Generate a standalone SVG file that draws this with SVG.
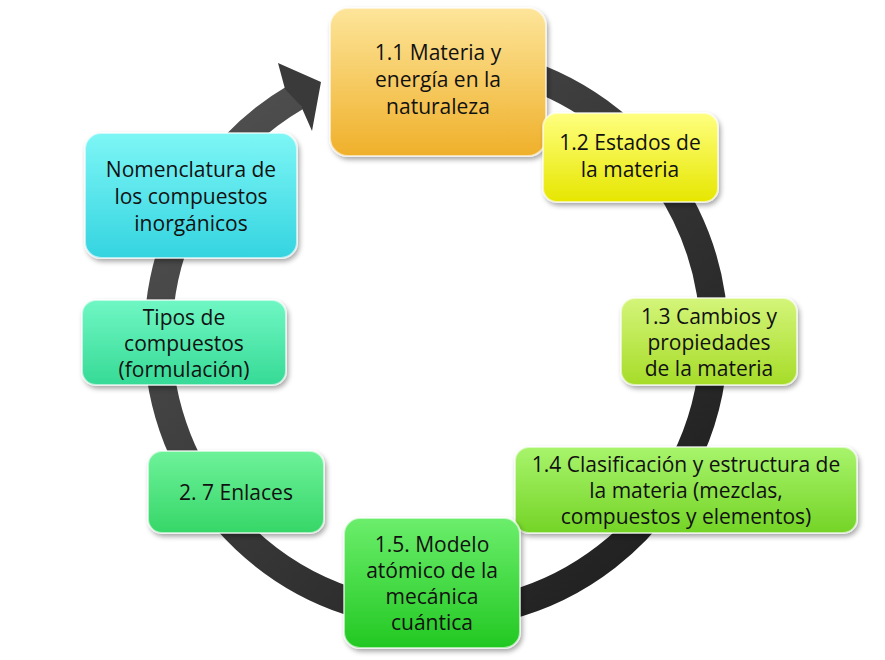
<svg xmlns="http://www.w3.org/2000/svg" width="885" height="660" viewBox="0 0 885 660">
<defs>
<linearGradient id="ring" x1="0" y1="0" x2="1" y2="1"><stop offset="0" stop-color="#555"/><stop offset="1" stop-color="#1a1a1a"/></linearGradient>
<linearGradient id="g1" x1="0" y1="0" x2="0" y2="1"><stop offset="0" stop-color="#fde59a"/><stop offset="1" stop-color="#efb02a"/></linearGradient>
<linearGradient id="g2" x1="0" y1="0" x2="0" y2="1"><stop offset="0" stop-color="#ffff80"/><stop offset="1" stop-color="#e6e600"/></linearGradient>
<linearGradient id="g3" x1="0" y1="0" x2="0" y2="1"><stop offset="0" stop-color="#d4f57a"/><stop offset="1" stop-color="#a6dc28"/></linearGradient>
<linearGradient id="g4" x1="0" y1="0" x2="0" y2="1"><stop offset="0" stop-color="#a8f46c"/><stop offset="1" stop-color="#74d426"/></linearGradient>
<linearGradient id="g5" x1="0" y1="0" x2="0" y2="1"><stop offset="0" stop-color="#6cee6c"/><stop offset="1" stop-color="#22c822"/></linearGradient>
<linearGradient id="g6" x1="0" y1="0" x2="0" y2="1"><stop offset="0" stop-color="#6ef29a"/><stop offset="1" stop-color="#36d668"/></linearGradient>
<linearGradient id="g7" x1="0" y1="0" x2="0" y2="1"><stop offset="0" stop-color="#70f7c4"/><stop offset="1" stop-color="#36da96"/></linearGradient>
<linearGradient id="g8" x1="0" y1="0" x2="0" y2="1"><stop offset="0" stop-color="#7ef6f6"/><stop offset="1" stop-color="#34d4e0"/></linearGradient>
<filter id="sh" x="-10%" y="-10%" width="130%" height="130%"><feDropShadow dx="2" dy="3" stdDeviation="2.5" flood-opacity="0.35"/></filter>
</defs>
<style>
.b{stroke:#ffffff;stroke-opacity:0.6;stroke-width:2;filter:url(#sh)}
text{font-family:"Open Sans","Liberation Sans",sans-serif;font-size:21px;fill:#111;text-anchor:middle}
</style>
<g id="connectors">
<path d="M488,64 A278,278 0 1 1 296,97" fill="none" stroke="url(#ring)" stroke-width="28"/>
<polygon points="278,63 321,82 312,131 301,106 285,89" fill="#3a3a3a"/>
</g>
<g id="n11"><rect class="b" x="330" y="8" width="216" height="148" rx="18" fill="url(#g1)"/><text x="438" y="60">1.1 Materia y</text><text x="438" y="87">energía en la</text><text x="438" y="114">naturaleza</text></g>
<g id="n12"><rect class="b" x="543" y="113" width="175" height="89" rx="14" fill="url(#g2)"/><text x="630" y="150">1.2 Estados de</text><text x="630" y="177">la materia</text></g>
<g id="n13"><rect class="b" x="621" y="298" width="176" height="87" rx="14" fill="url(#g3)"/><text x="709" y="324">1.3 Cambios y</text><text x="709" y="350">propiedades</text><text x="709" y="376">de la materia</text></g>
<g id="n14"><rect class="b" x="515" y="447" width="342" height="86" rx="14" fill="url(#g4)"/><text x="686" y="472">1.4 Clasificación y estructura de</text><text x="686" y="498">la materia (mezclas,</text><text x="686" y="524">compuestos y elementos)</text></g>
<g id="n15"><rect class="b" x="344" y="518" width="176" height="130" rx="16" fill="url(#g5)"/><text x="432" y="552">1.5. Modelo</text><text x="432" y="578">atómico de la</text><text x="432" y="604">mecánica</text><text x="432" y="630">cuántica</text></g>
<g id="n27"><rect class="b" x="148" y="451" width="176" height="82" rx="14" fill="url(#g6)"/><text x="236" y="500">2. 7 Enlaces</text></g>
<g id="ntipos"><rect class="b" x="82" y="300" width="204" height="85" rx="14" fill="url(#g7)"/><text x="184" y="325">Tipos de</text><text x="184" y="351">compuestos</text><text x="184" y="377">(formulación)</text></g>
<g id="nnom"><rect class="b" x="85" y="133" width="212" height="125" rx="16" fill="url(#g8)"/><text x="191" y="177">Nomenclatura de</text><text x="191" y="204">los compuestos</text><text x="191" y="231">inorgánicos</text></g>
</svg>
